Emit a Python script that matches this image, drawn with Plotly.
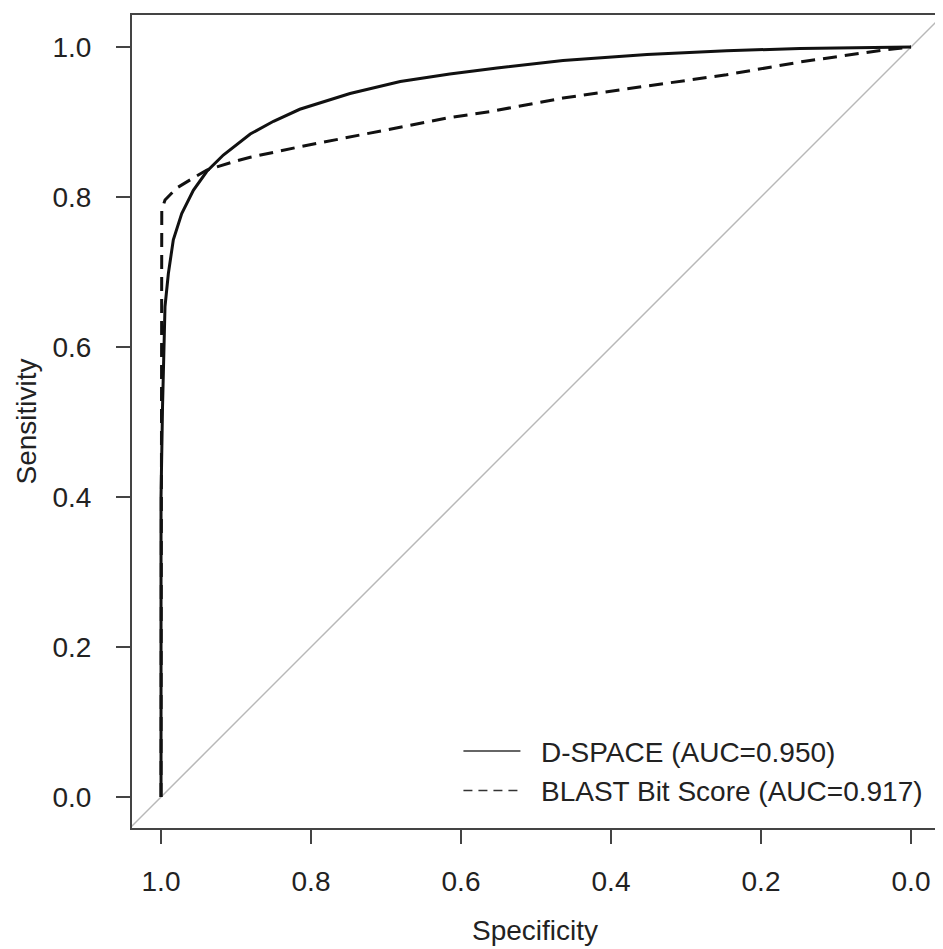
import plotly.graph_objects as go

# ROC curve points (specificity, sensitivity)
dspace_spec = [1.0, 1.0, 0.998, 0.9969, 0.9947, 0.9902, 0.9836, 0.9724, 0.9569, 0.9391,
               0.9169, 0.881, 0.850, 0.815, 0.748, 0.681, 0.615, 0.552, 0.464, 0.352,
               0.246, 0.148, 0.05, 0.0]
dspace_sens = [0.0, 0.40, 0.52, 0.583, 0.654, 0.698, 0.743, 0.778, 0.809, 0.834,
               0.856, 0.884, 0.901, 0.917, 0.938, 0.954, 0.964, 0.972, 0.982, 0.990,
               0.995, 0.998, 0.9995, 1.0]

blast_spec = [1.0, 1.0, 0.999, 0.999, 0.9947, 0.979, 0.961, 0.939, 0.9036, 0.881,
              0.815, 0.748, 0.681, 0.615, 0.561, 0.464, 0.352, 0.246, 0.148, 0.037, 0.0]
blast_sens = [0.0, 0.45, 0.70, 0.783, 0.796, 0.812, 0.823, 0.836, 0.847, 0.853,
              0.867, 0.880, 0.894, 0.906, 0.914, 0.932, 0.948, 0.963, 0.980, 0.996, 1.0]

diag = [-0.05, 1.05]
tick_vals = [0.0, 0.2, 0.4, 0.6, 0.8, 1.0]
tick_text = ["0.0", "0.2", "0.4", "0.6", "0.8", "1.0"]
legend_names = ["D-SPACE (AUC=0.950)", "BLAST Bit Score (AUC=0.917)"]

FONT = "Liberation Sans, Arial, sans-serif"
TXT = "#222222"
FS = 28
PAD = "\u00a0\u00a0"

fig = go.Figure()

# chance line
fig.add_trace(go.Scatter(
    x=[1 - d for d in diag], y=diag, mode="lines",
    line=dict(color="#b8b8b8", width=1.5), showlegend=False, hoverinfo="skip"
))

fig.add_trace(go.Scatter(
    x=dspace_spec, y=dspace_sens, mode="lines",
    line=dict(color="#111111", width=3), showlegend=False
))

fig.add_trace(go.Scatter(
    x=blast_spec, y=blast_sens, mode="lines",
    line=dict(color="#111111", width=3, dash="14px,8px"), showlegend=False
))

# thinner legend samples, like the R legend
fig.add_trace(go.Scatter(
    x=[None], y=[None], mode="lines", name=PAD + legend_names[0],
    line=dict(color="#333333", width=1.5)
))
fig.add_trace(go.Scatter(
    x=[None], y=[None], mode="lines", name=PAD + legend_names[1],
    line=dict(color="#333333", width=1.5, dash="9px,6px")
))

axis_common = dict(
    tickvals=tick_vals, ticktext=tick_text,
    ticks="outside", ticklen=14, tickwidth=1.5, tickcolor="#444444",
    showline=True, mirror=True, linecolor="#444444", linewidth=2,
    showgrid=False, zeroline=False, automargin=False,
    tickfont=dict(family=FONT, size=FS, color=TXT),
)

# page body keeps its default 8px margin, so the figure is 8px smaller
fig.update_layout(
    width=935, height=941,
    margin=dict(l=124, r=5, t=7, b=121),
    plot_bgcolor="white", paper_bgcolor="white",
    xaxis=dict(axis_common, range=[1.0387, -0.036], ticklabelstandoff=13,
               title=dict(text="Specificity", font=dict(family=FONT, size=FS, color=TXT),
                          standoff=25)),
    yaxis=dict(axis_common, range=[-0.0413, 1.0427], tickangle=0, ticklabelstandoff=19,
               title=dict(text="Sensitivity", font=dict(family=FONT, size=FS, color=TXT),
                          standoff=8)),
    legend=dict(
        x=0.405, y=0.125, xanchor="left", yanchor="top",
        bgcolor="rgba(0,0,0,0)", borderwidth=0,
        font=dict(family=FONT, size=FS, color=TXT),
        itemwidth=57,
    ),
    showlegend=True,
)

fig.write_html("out.html")
